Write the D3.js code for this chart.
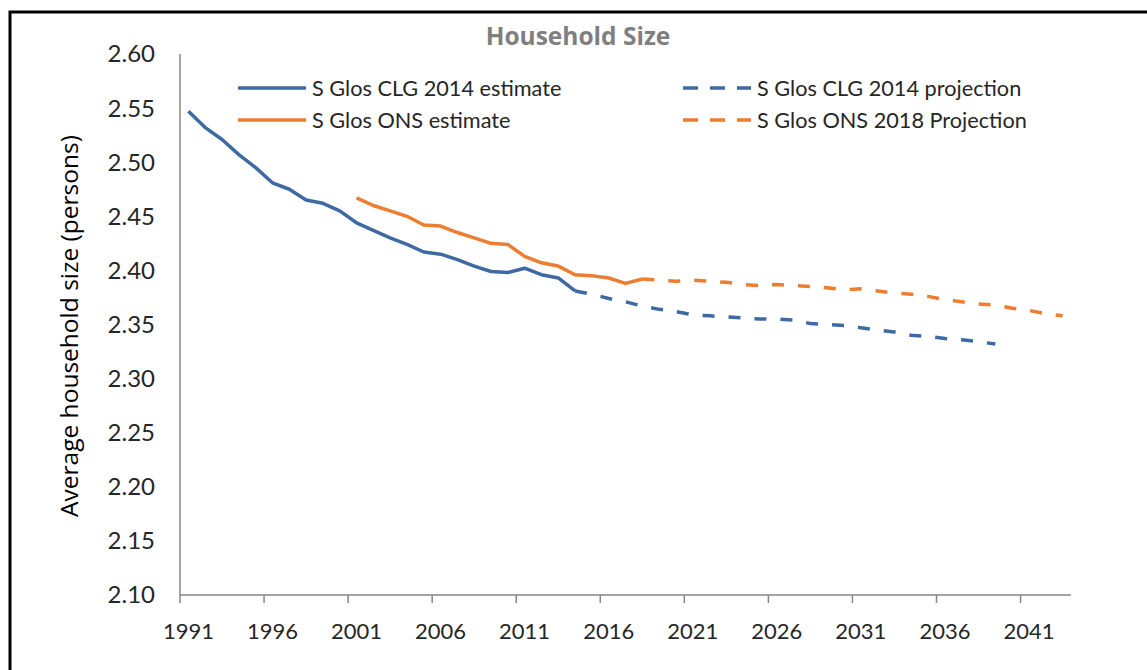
<!DOCTYPE html>
<html>
<head>
<meta charset="utf-8">
<script src="https://cdn.jsdelivr.net/npm/d3@7"></script>
<style>
  body { margin: 0; background: #fff; }
  text { font-family: Lato, "Open Sans", sans-serif; }
</style>
</head>
<body>
<div id="viz"></div>
<script>
// years on the category axis
var years = d3.range(1991, 2044);
var yTicks = [2.10, 2.15, 2.20, 2.25, 2.30, 2.35, 2.40, 2.45, 2.50, 2.55, 2.60];

// S Glos CLG 2014 estimate, 1991-2014
var clgEstYears = d3.range(1991, 2015);
var clgEst = [2.547, 2.532, 2.521, 2.507, 2.495, 2.481, 2.475, 2.465, 2.462, 2.455,
              2.444, 2.437, 2.430, 2.424, 2.417, 2.415, 2.410, 2.404, 2.399, 2.398,
              2.402, 2.396, 2.393, 2.381];

// S Glos CLG 2014 projection, 2014-2039
var clgProjYears = d3.range(2014, 2040);
var clgProj = [2.381, 2.378, 2.374, 2.371, 2.367, 2.364, 2.362, 2.359, 2.358, 2.357,
               2.356, 2.355, 2.355, 2.354, 2.351, 2.350, 2.349, 2.347, 2.345, 2.343,
               2.340, 2.339, 2.337, 2.336, 2.334, 2.332];

// S Glos ONS estimate, 2001-2018
var onsEstYears = d3.range(2001, 2019);
var onsEst = [2.467, 2.460, 2.455, 2.450, 2.442, 2.441, 2.435, 2.430, 2.425, 2.424,
              2.413, 2.407, 2.404, 2.396, 2.395, 2.393, 2.388, 2.392];

// S Glos ONS 2018 Projection, 2018-2043
var onsProjYears = d3.range(2018, 2044);
var onsProj = [2.392, 2.391, 2.390, 2.391, 2.390, 2.389, 2.387, 2.386, 2.387, 2.386,
               2.385, 2.384, 2.382, 2.383, 2.381, 2.379, 2.378, 2.376, 2.373, 2.371,
               2.369, 2.368, 2.365, 2.363, 2.360, 2.358];

var blue = "#3d6aa3";
var orange = "#ed7d31";

var width = 1147, height = 670;

var svg = d3.select("#viz").append("svg")
    .attr("width", width)
    .attr("height", height);

// outer frame (right and bottom edges fall outside the picture)
svg.append("path")
    .attr("d", "M10," + height + "V12H" + width)
    .attr("fill", "none")
    .attr("stroke", "#000")
    .attr("stroke-width", 3);

var x = d3.scaleBand().domain(years).range([180, 1071]).padding(0);
var y = d3.scaleLinear().domain([2.10, 2.60]).range([595, 54]);
var bw = x.bandwidth();

// title
svg.append("text")
    .attr("x", 578).attr("y", 45)
    .attr("text-anchor", "middle")
    .style("font-family", "'Open Sans', sans-serif")
    .attr("font-size", 24.5).attr("font-weight", "bold")
    .attr("fill", "#7f7f7f")
    .text("Household Size");

// y axis
svg.append("line")
    .attr("x1", 180).attr("x2", 180)
    .attr("y1", y(2.60)).attr("y2", y(2.10))
    .attr("stroke", "#868686").attr("stroke-width", 1.5);

svg.selectAll(".ylab")
    .data(yTicks)
    .enter().append("text")
    .attr("class", "ylab")
    .attr("x", 155)
    .attr("y", d => y(d))
    .attr("dy", "0.35em")
    .attr("text-anchor", "end")
    .attr("font-size", 24)
    .attr("fill", "#262626")
    .text(d => d3.format(".2f")(d));

svg.append("text")
    .attr("transform", "translate(78,326) rotate(-90)")
    .attr("text-anchor", "middle")
    .style("font-family", "'Open Sans', sans-serif")
    .attr("font-size", 24.5)
    .attr("fill", "#000")
    .text("Average household size (persons)");

// x axis
svg.append("line")
    .attr("x1", 180).attr("x2", 1071)
    .attr("y1", 595).attr("y2", 595)
    .attr("stroke", "#868686").attr("stroke-width", 1.5);

var tickYears = years.filter(d => (d - 1991) % 5 == 0);

svg.selectAll(".xtick")
    .data(tickYears)
    .enter().append("line")
    .attr("class", "xtick")
    .attr("x1", d => x(d)).attr("x2", d => x(d))
    .attr("y1", 595).attr("y2", 603)
    .attr("stroke", "#868686").attr("stroke-width", 1.5);

svg.selectAll(".xlab")
    .data(tickYears)
    .enter().append("text")
    .attr("class", "xlab")
    .attr("x", d => x(d) + bw / 2)
    .attr("y", 639)
    .attr("text-anchor", "middle")
    .attr("font-size", 22)
    .attr("fill", "#262626")
    .text(d => d);

// lines
var line = d3.line()
    .x(d => x(d[0]) + bw / 2)
    .y(d => y(d[1]));

var series = [
    { name: "S Glos CLG 2014 estimate", yrs: clgEstYears, vals: clgEst, color: blue, dash: null },
    { name: "S Glos ONS estimate", yrs: onsEstYears, vals: onsEst, color: orange, dash: null },
    { name: "S Glos CLG 2014 projection", yrs: clgProjYears, vals: clgProj, color: blue, dash: "12,14" },
    { name: "S Glos ONS 2018 Projection", yrs: onsProjYears, vals: onsProj, color: orange, dash: "12,14" }
];

series.forEach(function(s) {
    svg.append("path")
        .datum(d3.zip(s.yrs, s.vals))
        .attr("d", line)
        .attr("fill", "none")
        .attr("stroke", s.color)
        .attr("stroke-width", 3.5)
        .attr("stroke-linejoin", "round")
        .attr("stroke-dasharray", s.dash);
});

// legend
var legendPos = [[238, 88], [238, 120], [683, 88], [683, 120]];

series.forEach(function(s, i) {
    var p = legendPos[i];
    svg.append("line")
        .attr("x1", p[0]).attr("x2", p[0] + 68)
        .attr("y1", p[1]).attr("y2", p[1])
        .attr("stroke", s.color)
        .attr("stroke-width", 3.5)
        .attr("stroke-dasharray", s.dash ? "15,12" : null);
    svg.append("text")
        .attr("x", p[0] + 74).attr("y", p[1])
        .attr("dy", "0.35em")
        .attr("font-size", 21.7)
        .attr("fill", "#262626")
        .text(s.name);
});
</script>
</body>
</html>
